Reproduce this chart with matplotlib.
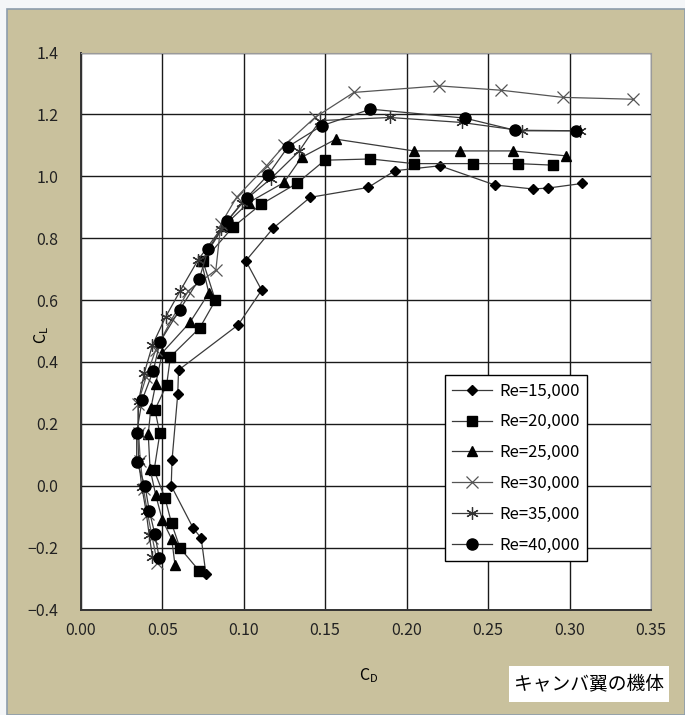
import numpy as np
import matplotlib
matplotlib.use('Agg')
import matplotlib.pyplot as plt
from matplotlib.patches import Rectangle

plt.rcParams['font.family'] = ['Noto Sans CJK JP', 'DejaVu Sans']
plt.rcParams['mathtext.default'] = 'regular'

# Re=15,000
cd_15 = [0.0768, 0.0739, 0.0690, 0.0555, 0.0560, 0.0595, 0.0600, 0.0966, 0.1110, 0.1013,
         0.1180, 0.1408, 0.1764, 0.1928, 0.2204, 0.2541, 0.2776, 0.2868, 0.3079]
cl_15 = [-0.285, -0.169, -0.137, 0.000, 0.083, 0.296, 0.374, 0.520, 0.632, 0.727,
         0.832, 0.932, 0.964, 1.018, 1.034, 0.972, 0.959, 0.962, 0.977]
# Re=20,000
cd_20 = [0.0727, 0.0609, 0.0557, 0.0517, 0.0450, 0.0485, 0.0455, 0.0527, 0.0550, 0.0730,
         0.0826, 0.0750, 0.0932, 0.1105, 0.1326, 0.1498, 0.1778, 0.2044, 0.2408, 0.2684, 0.2899]
cl_20 = [-0.275, -0.201, -0.121, -0.040, 0.050, 0.169, 0.246, 0.326, 0.417, 0.510,
         0.599, 0.725, 0.835, 0.909, 0.977, 1.052, 1.056, 1.041, 1.041, 1.041, 1.036]
# Re=25,000
cd_25 = [0.0578, 0.0558, 0.0500, 0.0460, 0.0425, 0.0414, 0.0430, 0.0460, 0.0500, 0.0670,
         0.0786, 0.0740, 0.0880, 0.1030, 0.1247, 0.1355, 0.1566, 0.2044, 0.2330, 0.2653, 0.2981]
cl_25 = [-0.255, -0.172, -0.110, -0.030, 0.055, 0.167, 0.250, 0.330, 0.430, 0.528,
         0.623, 0.725, 0.840, 0.915, 0.980, 1.061, 1.120, 1.082, 1.082, 1.082, 1.066]
# Re=30,000
cd_30 = [0.0470, 0.0440, 0.0410, 0.0385, 0.0365, 0.0355, 0.0350, 0.0400, 0.0460, 0.0560,
         0.0660, 0.0829, 0.0860, 0.0956, 0.1140, 0.1250, 0.1437, 0.1676, 0.2200, 0.2582,
         0.2960, 0.3390]
cl_30 = [-0.250, -0.170, -0.090, -0.010, 0.080, 0.170, 0.265, 0.350, 0.440, 0.540,
         0.630, 0.697, 0.846, 0.932, 1.034, 1.100, 1.190, 1.271, 1.292, 1.278,
         1.255, 1.249]
# Re=35,000
cd_35 = [0.0440, 0.0420, 0.0400, 0.0375, 0.0355, 0.0350, 0.0355, 0.0390, 0.0440, 0.0520,
         0.0610, 0.0720, 0.0860, 0.0990, 0.1166, 0.1340, 0.1468, 0.1897, 0.2337,
         0.2711, 0.3063]
cl_35 = [-0.230, -0.160, -0.080, -0.005, 0.080, 0.170, 0.275, 0.365, 0.455, 0.545,
         0.630, 0.730, 0.830, 0.915, 0.992, 1.081, 1.180, 1.190, 1.174,
         1.147, 1.147]
# Re=40,000
cd_40 = [0.0481, 0.0455, 0.0420, 0.0394, 0.0343, 0.0343, 0.0377, 0.0445, 0.0486, 0.0606,
         0.0727, 0.0782, 0.0895, 0.1018, 0.1150, 0.1273, 0.1478, 0.1778, 0.2357, 0.2664, 0.3038]
cl_40 = [-0.232, -0.157, -0.080, 0.000, 0.078, 0.172, 0.278, 0.372, 0.465, 0.568,
         0.668, 0.765, 0.854, 0.930, 1.005, 1.096, 1.163, 1.217, 1.188, 1.149, 1.147]

labels = ['Re=15,000', 'Re=20,000', 'Re=25,000', 'Re=30,000', 'Re=35,000', 'Re=40,000']
xticks = [0.00, 0.05, 0.10, 0.15, 0.20, 0.25, 0.30, 0.35]
yticks = [-0.4, -0.2, 0.0, 0.2, 0.4, 0.6, 0.8, 1.0, 1.2, 1.4]

tan = '#c9c19d'
fig = plt.figure(figsize=(6.85, 7.15), dpi=100, facecolor='#f4f6f8')
W, H = 685.0, 715.0
fig.patches.append(Rectangle((7 / W, 0), 1 - 7 / W, 1 - 9 / H, transform=fig.transFigure,
                             facecolor=tan, edgecolor='#8c9cac', linewidth=1.2, zorder=-10))

ax = fig.add_axes([80.8 / W, 1 - 609.6 / H, 570.2 / W, 557.1 / H])
ax.set_facecolor('white')

lc = '#3a3a3a'
ax.plot(cd_15, cl_15, color=lc, lw=0.9, marker='D', ms=5, mfc='k', mec='k', label=labels[0])
ax.plot(cd_20, cl_20, color=lc, lw=0.9, marker='s', ms=7.5, mfc='k', mec='k', label=labels[1])
ax.plot(cd_25, cl_25, color=lc, lw=0.9, marker='^', ms=7.5, mfc='k', mec='k', label=labels[2])
ax.plot(cd_30, cl_30, color='#555555', lw=0.9, marker='x', ms=8.5, mew=0.9, mec='#555555', label=labels[3])
ax.plot(cd_35, cl_35, color=lc, lw=0.9, marker=(6, 2, 0), ms=9, mew=0.9, mec='#333333', label=labels[4])
ax.plot(cd_40, cl_40, color=lc, lw=0.9, marker='o', ms=8, mfc='k', mec='k', label=labels[5])

ax.set_xlim(0, 0.35)
ax.set_ylim(-0.4, 1.4)
ax.set_xticks(xticks)
ax.set_yticks(yticks)
ax.set_xticklabels(['%.2f' % v for v in xticks])
ax.set_yticklabels(['%.1f' % v if v >= 0 else '\u2212%.1f' % abs(v) for v in yticks])
ax.tick_params(axis='both', length=0, labelsize=11.5, colors='#222222')
ax.tick_params(axis='y', pad=16)
ax.tick_params(axis='x', pad=9)
ax.grid(True, color='#1a1a1a', lw=1.0)
ax.set_axisbelow(True)
for s in ['left', 'bottom']:
    ax.spines[s].set_color('#333333')
    ax.spines[s].set_linewidth(1.4)
for s in ['top', 'right']:
    ax.spines[s].set_color('#9a9a9a')
    ax.spines[s].set_linewidth(0.8)

leg = ax.legend(loc='upper left', bbox_to_anchor=(0.6387, 0.4211), fontsize=12,
                handlelength=2.4, handletextpad=0.4, labelspacing=0.83, borderpad=0.45,
                borderaxespad=0, fancybox=False, framealpha=1, edgecolor='k')
leg.get_frame().set_linewidth(1.0)

fig.text(42 / W, 1 - 335 / H, '$C_L$', rotation=90, ha='center', va='center', fontsize=11.5)
fig.text(369 / W, 1 - 676 / H, '$C_D$', ha='center', va='center', fontsize=11.5)

fig.patches.append(Rectangle((509 / W, 1 - 702 / H), 160 / W, 36 / H, transform=fig.transFigure,
                             facecolor='white', edgecolor='none', zorder=1))
fig.text(589 / W, 1 - 684 / H, 'キャンバ翼の機体', ha='center', va='center', fontsize=13.5, zorder=2)

fig.savefig('out.png', dpi=100, facecolor=fig.get_facecolor())
